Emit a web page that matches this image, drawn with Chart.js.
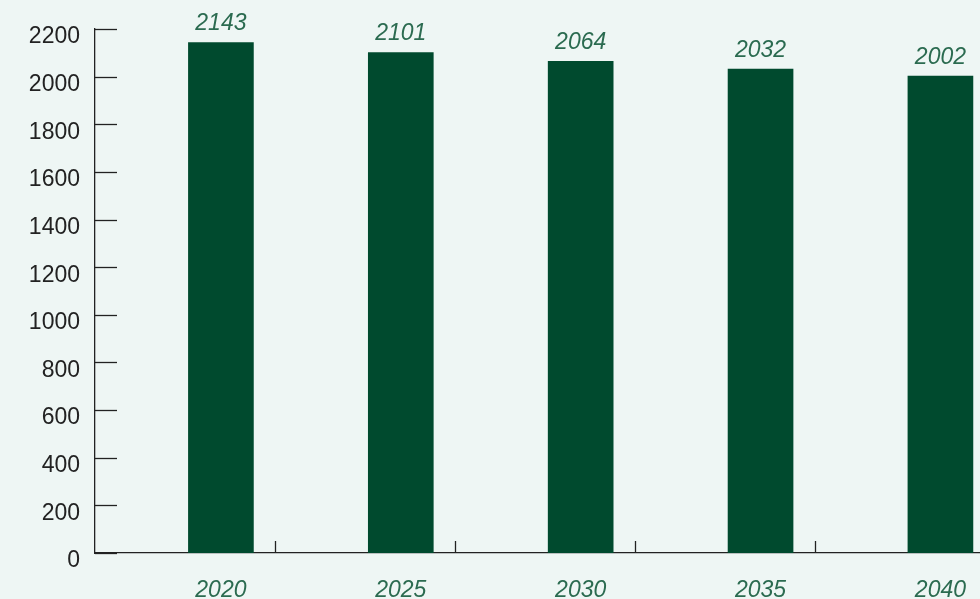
<!DOCTYPE html>
<html lang="en">
<head>
  <meta charset="UTF-8">
  <title>Bar chart 2020-2040</title>
  <script src="https://cdn.jsdelivr.net/npm/chart.js"></script>
  <style>
    html, body { margin: 0; padding: 0; background: #eef6f4; }
    .chart-container { width: 980px; height: 599px; }
  </style>
</head>
<body>

  <div class="chart-container">
    <canvas id="barChart"></canvas>
  </div>

  <script>
    // Values
    const years = ['2020', '2025', '2030', '2035', '2040'];
    const values = [2143, 2101, 2064, 2032, 2002];
    const yTicks = [0, 200, 400, 600, 800, 1000, 1200, 1400, 1600, 1800, 2000, 2200];

    const barColor = '#004a2e';
    const labelGreen = '#2b6b50';
    const axisColor = '#222222';
    const fontFamily = '"Liberation Sans", Arial, sans-serif';

    // Short inward ticks on both axes plus the value labels above the bars
    const axisMarks = {
      id: 'axisMarks',
      afterDatasetsDraw(chart) {
        const ctx = chart.ctx;
        const x = chart.scales.x;
        const y = chart.scales.y;
        const area = chart.chartArea;
        ctx.save();
        ctx.strokeStyle = axisColor;
        ctx.lineWidth = 1.3;
        // y ticks pointing into the plot
        yTicks.forEach(v => {
          const py = Math.round(y.getPixelForValue(v)) + 0.5;
          ctx.beginPath();
          ctx.moveTo(area.left, py);
          ctx.lineTo(area.left + 22, py);
          ctx.stroke();
        });
        // x ticks between the bars, pointing up from the axis
        for (let i = 0; i < years.length - 1; i++) {
          const px = Math.round(x.getPixelForValue(+years[i] + 1.5)) + 0.5;
          ctx.beginPath();
          ctx.moveTo(px, area.bottom);
          ctx.lineTo(px, area.bottom - 12);
          ctx.stroke();
        }
        // value labels
        ctx.fillStyle = labelGreen;
        ctx.font = 'italic 23px ' + fontFamily;
        ctx.textAlign = 'center';
        ctx.textBaseline = 'bottom';
        chart.getDatasetMeta(0).data.forEach((bar, i) => {
          ctx.fillText(String(values[i]), bar.x, bar.y - 7);
        });
        ctx.restore();
      }
    };

    const ctx = document.getElementById('barChart').getContext('2d');
    new Chart(ctx, {
      type: 'bar',
      data: {
        datasets: [{
          data: years.map((yr, i) => ({ x: +yr, y: values[i] })),
          backgroundColor: barColor,
          borderWidth: 0,
          barThickness: 65
        }]
      },
      options: {
        responsive: true,
        maintainAspectRatio: false,
        animation: false,
        layout: { padding: { top: 29, right: 0, left: 0, bottom: 0 } },
        plugins: {
          legend: { display: false },
          tooltip: { enabled: false }
        },
        scales: {
          x: {
            type: 'linear',
            offset: false,
            min: 2016.5,
            max: 2041.1,
            afterBuildTicks: scale => {
              scale.ticks = years.map(v => ({ value: +v }));
            },
            afterFit: scale => {
              scale.height = 46;
              scale.paddingLeft = 0;
              scale.paddingRight = 0;
            },
            grid: { display: false, drawTicks: false },
            border: { display: true, color: axisColor, width: 1.3 },
            ticks: {
              autoSkip: false,
              maxRotation: 0,
              padding: 24,
              color: labelGreen,
              font: { family: fontFamily, size: 23, style: 'italic' },
              callback: v => String(v)
            }
          },
          y: {
            min: 0,
            max: 2200,
            afterBuildTicks: scale => {
              scale.ticks = yTicks.map(v => ({ value: v }));
            },
            afterFit: scale => { scale.width = 95; },
            grid: { display: false, drawTicks: false },
            border: { display: true, color: axisColor, width: 1.3 },
            ticks: {
              padding: 15,
              labelOffset: 8,
              color: axisColor,
              font: { family: fontFamily, size: 23 },
              callback: v => String(v)
            }
          }
        }
      },
      plugins: [axisMarks]
    });
  </script>

</body>
</html>
